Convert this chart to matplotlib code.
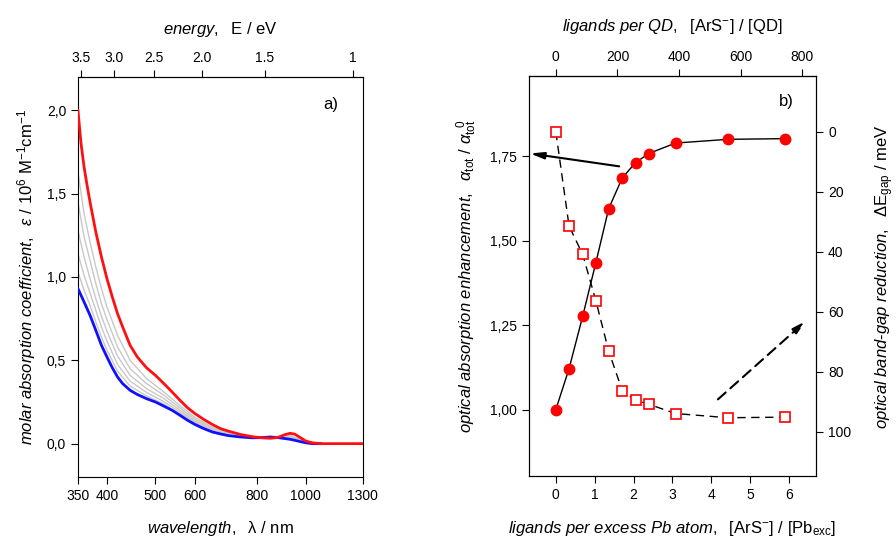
import numpy as np
import matplotlib.pyplot as plt
from matplotlib.ticker import FixedLocator, FixedFormatter, NullLocator

plt.rcParams['font.family'] = ['Liberation Sans', 'DejaVu Sans']
plt.rcParams['mathtext.fontset'] = 'custom'
plt.rcParams['mathtext.rm'] = 'Liberation Sans'
plt.rcParams['mathtext.it'] = 'Liberation Sans:italic'
plt.rcParams['mathtext.bf'] = 'Liberation Sans:bold'
plt.rcParams['font.size'] = 10

# ---- panel a) spectra ----
wavelength = [350, 355, 360, 365, 370, 380, 390, 400, 410, 420, 430, 445, 460, 480, 500, 520, 540, 560,
              580, 600, 625, 650, 675, 700, 740, 780, 815, 850, 880, 910, 930, 950, 975, 1000, 1030, 1070, 1300]
eps_final = [2.00, 1.80, 1.66, 1.55, 1.45, 1.27, 1.12, 0.99, 0.88, 0.78, 0.70, 0.59, 0.52, 0.455, 0.41, 0.36,
             0.31, 0.26, 0.215, 0.18, 0.145, 0.115, 0.09, 0.075, 0.055, 0.042, 0.035, 0.032, 0.038, 0.055,
             0.062, 0.057, 0.036, 0.015, 0.005, 0.0, 0.0]
eps_start = [0.93, 0.89, 0.85, 0.81, 0.77, 0.68, 0.59, 0.52, 0.455, 0.40, 0.36, 0.32, 0.295, 0.27, 0.25,
             0.225, 0.20, 0.17, 0.14, 0.115, 0.09, 0.07, 0.058, 0.048, 0.04, 0.035, 0.036, 0.04, 0.036,
             0.03, 0.026, 0.02, 0.012, 0.005, 0.0, 0.0]

# intermediate titration spectra (coarser reading)
wl_grey = [350, 360, 370, 380, 390, 400, 420, 445, 480, 520, 560, 600, 650, 700, 780, 850, 930, 1000, 1070]
eps_g1 = [1.63, 1.38, 1.21, 1.06, 0.93, 0.82, 0.65, 0.50, 0.39, 0.31, 0.228, 0.157, 0.099, 0.066, 0.040, 0.035, 0.050, 0.012, 0.0]
eps_g2 = [1.45, 1.24, 1.10, 0.96, 0.84, 0.745, 0.58, 0.45, 0.36, 0.29, 0.213, 0.146, 0.092, 0.061, 0.039, 0.036, 0.043, 0.010, 0.0]
eps_g3 = [1.28, 1.12, 0.99, 0.87, 0.765, 0.675, 0.525, 0.41, 0.33, 0.27, 0.20, 0.136, 0.085, 0.057, 0.037, 0.037, 0.038, 0.008, 0.0]
eps_g4 = [1.14, 1.01, 0.905, 0.80, 0.70, 0.615, 0.475, 0.375, 0.307, 0.252, 0.188, 0.128, 0.079, 0.053, 0.036, 0.038, 0.033, 0.007, 0.0]
eps_g5 = [1.03, 0.92, 0.83, 0.73, 0.64, 0.56, 0.435, 0.345, 0.287, 0.237, 0.178, 0.121, 0.074, 0.050, 0.035, 0.039, 0.029, 0.006, 0.0]

wl_ticks = [350, 400, 500, 600, 800, 1000, 1300]
e_ticks = [3.5, 3.0, 2.5, 2.0, 1.5, 1.0]
e_labels = ['3.5', '3.0', '2.5', '2.0', '1.5', '1']
eps_ticks = [0.0, 0.5, 1.0, 1.5, 2.0]
eps_labels = ['0,0', '0,5', '1,0', '1,5', '2,0']

# ---- panel b) titration ----
lig_per_pb = [0.0, 0.34, 0.69, 1.03, 1.36, 1.71, 2.05, 2.39, 3.08, 4.43, 5.89]
enhancement = [1.00, 1.121, 1.276, 1.435, 1.595, 1.686, 1.731, 1.758, 1.789, 1.800, 1.802]
gap_reduction = [0.0, 31.4, 40.8, 56.3, 73.1, 86.3, 89.4, 90.8, 93.9, 95.3, 95.1]
ligands_per_qd_factor = 126.2

enh_ticks = [1.00, 1.25, 1.50, 1.75]
enh_labels = ['1,00', '1,25', '1,50', '1,75']
gap_ticks = [0, 20, 40, 60, 80, 100]
pb_ticks = [0, 1, 2, 3, 4, 5, 6]
qd_ticks = [0, 200, 400, 600, 800]

fig = plt.figure(figsize=(8.96, 5.48), dpi=100)
axa = fig.add_axes([0.087, 0.1296, 0.318, 0.73])
axb = fig.add_axes([0.590, 0.131, 0.321, 0.730])

# panel a
axa.plot(wavelength[:-1], eps_start, color='#1010ff', lw=2, zorder=3)
for g in [eps_g5, eps_g4, eps_g3, eps_g2, eps_g1]:
    axa.plot(wl_grey, g, color='#c8c8c8', lw=1, zorder=2)
axa.plot(wavelength, eps_final, color='#ff1010', lw=2, zorder=4)
axa.set_xscale('log')
axa.set_xlim(350, 1300)
axa.set_ylim(-0.2, 2.2)
axa.xaxis.set_major_locator(FixedLocator(wl_ticks))
axa.xaxis.set_major_formatter(FixedFormatter([str(t) for t in wl_ticks]))
axa.xaxis.set_minor_locator(NullLocator())
axa.set_yticks(eps_ticks, eps_labels)
axa.tick_params(direction='out', length=5, labelsize=10)
axa.set_xlabel(r'$\mathit{wavelength,}$  λ / nm', fontsize=12, labelpad=12)
axa.set_ylabel(r'$\mathit{molar\ absorption\ coefficient,}$  $\varepsilon$ / 10$^6$ M$^{-1}$cm$^{-1}$',
               fontsize=12, labelpad=6)
sec = axa.secondary_xaxis('top', functions=(lambda x: 1240.0 / x, lambda x: 1240.0 / x))
sec.xaxis.set_major_locator(FixedLocator(e_ticks))
sec.xaxis.set_major_formatter(FixedFormatter(e_labels))
sec.xaxis.set_minor_locator(NullLocator())
sec.tick_params(direction='out', length=5, labelsize=10)
sec.set_xlabel(r'$\mathit{energy,}$  E / eV', fontsize=12, labelpad=12)
axa.text(0.915, 0.93, 'a)', transform=axa.transAxes, ha='right', va='center', fontsize=12)

# panel b
axb.plot(lig_per_pb, enhancement, color='black', lw=1, zorder=3)
axb.plot(lig_per_pb, enhancement, 'o', color='#ff0000', ms=7.5, zorder=4)
axb.set_xlim(-0.7, 6.7)
axb.set_ylim(0.8025, 1.987)
axb.set_xticks(pb_ticks)
axb.set_yticks(enh_ticks, enh_labels)
axb.tick_params(direction='out', length=5, labelsize=10)
axb.set_xlabel(r'$\mathit{ligands\ per\ excess\ Pb\ atom,}$  [ArS$^{-}$] / [Pb$_{\rm exc}$]',
               fontsize=12, labelpad=12)
axb.set_ylabel(r'$\mathit{optical\ absorption\ enhancement,}$  $\alpha_{\rm tot}$ / $\alpha_{\rm tot}^{\ \ 0}$',
               fontsize=12, labelpad=8)

ax2 = axb.twinx()
ax2.plot(lig_per_pb, gap_reduction, color='black', lw=1, ls=(0, (6, 4)), zorder=3)
ax2.plot(lig_per_pb, gap_reduction, 's', mfc='white', mec='#ff0000', mew=1.2, ms=7.5, zorder=4)
ax2.set_ylim(114.8, -18.6)
ax2.set_yticks(gap_ticks)
ax2.tick_params(direction='out', length=5, labelsize=10)
ax2.set_ylabel(r'$\mathit{optical\ band}$-$\mathit{gap\ reduction,}$  ΔE$_{\rm gap}$ / meV',
               fontsize=12, labelpad=16)

secb = axb.secondary_xaxis('top', functions=(lambda x: x * ligands_per_qd_factor,
                                              lambda x: x / ligands_per_qd_factor))
secb.set_xticks(qd_ticks)
secb.tick_params(direction='out', length=5, labelsize=10)
secb.set_xlabel(r'$\mathit{ligands\ per\ QD,}$  [ArS$^{-}$] / [QD]', fontsize=12, labelpad=14)
axb.text(0.895, 0.936, 'b)', transform=axb.transAxes, ha='center', va='center', fontsize=12)

# arrows pointing to the relevant axes
axb.annotate('', xy=(-0.66, 1.758), xytext=(1.63, 1.72),
             arrowprops=dict(arrowstyle='-|>,head_length=0.8,head_width=0.2', color='black', lw=1.5,
                             shrinkA=0, shrinkB=0))
axb.annotate('', xy=(6.43, 1.262), xytext=(4.17, 1.03),
             arrowprops=dict(arrowstyle='-|>,head_length=0.8,head_width=0.2', color='black', lw=1.5,
                             ls=(0, (5, 3)), shrinkA=0, shrinkB=0))

fig.savefig('out.png', dpi=100)
